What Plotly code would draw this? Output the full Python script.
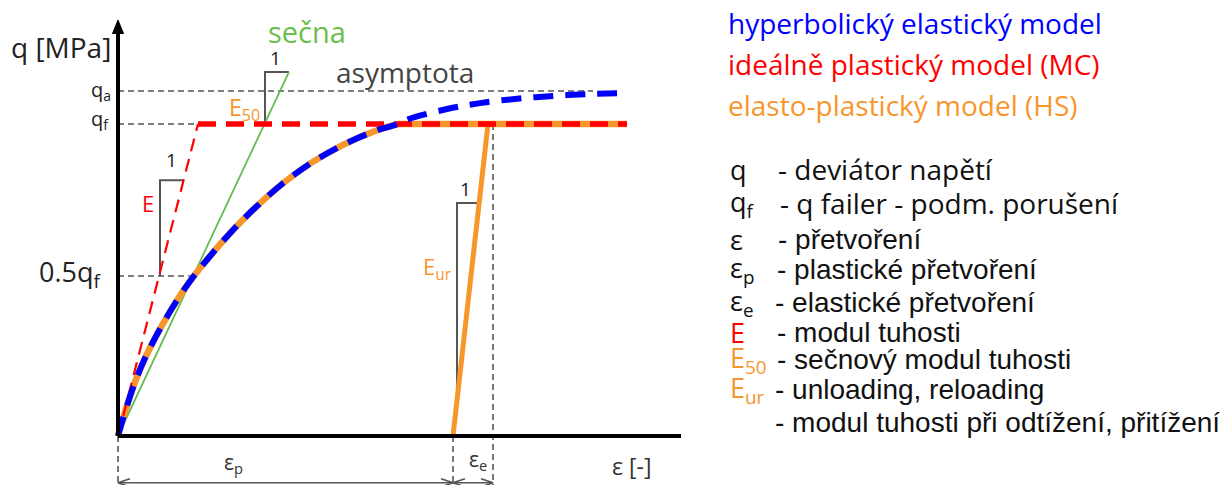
import plotly.graph_objects as go

# ---------------- data (strain units, q units with q_f = 100) ----------------
hyper_eps = [0, 0.5, 1.5, 2.4, 3.4, 4.5, 6.0, 7.4, 8.9, 11.2, 13.5, 16.5, 19.2, 22.5,
             25.9, 28.0, 28.9, 32.9, 36.2, 39.9, 43.5, 47.2, 50.5]
hyper_q = [0, 5.6, 15.5, 22.8, 29.5, 36.0, 44.0, 50.5, 56.5, 65.0, 72.5, 81.0, 87.3, 93.3,
           98.0, 100.0, 101.4, 104.8, 106.7, 108.1, 109.0, 109.6, 109.9]

q_f = 100.0
q_a = 110.6
q_half = 51.3
mc_corner_eps = 8.0
curve_end_eps = 50.9
eps_p = 33.5
eps_unload_top = 37.0
eps_e_end = 37.5
secant_eps = [0, 17.1]
secant_q = [0, 116.7]
x_axis_end = 56.3
y_axis_top = 133.3
dim_q = -15.0

# HS curve: hyperbola up to q_f, then plateau
hs_curve_eps = [e for e, q in zip(hyper_eps, hyper_q) if q <= q_f]
hs_curve_q = [q for q in hyper_q if q <= q_f]

# ---------------- figure ----------------
GREY = "#555555"
ORANGE = "#F7962B"
GREEN = "#66BB55"

fig = go.Figure()

def line(x, y, color, width, dash="solid", shape="linear"):
    fig.add_trace(go.Scatter(x=x, y=y, mode="lines",
                             line=dict(color=color, width=width, dash=dash, shape=shape),
                             hoverinfo="skip", showlegend=False))

# helper grey dashed lines
line([0, 47.5], [q_a, q_a], GREY, 1.6, "6px,4px")
line([0, mc_corner_eps], [q_f, q_f], GREY, 1.6, "6px,4px")
line([0, 7.4], [q_half, q_half], GREY, 1.6, "6px,4px")
line([0, 0], [0, dim_q - 2], GREY, 1.6, "6px,4px")
line([eps_p, eps_p], [0, dim_q - 2], GREY, 1.6, "6px,4px")
line([eps_e_end, eps_e_end], [q_f, dim_q - 2], GREY, 1.6, "6px,4px")

# slope triangles
line([4.2, 4.2, 6.6], [q_half, 82.0, 82.0], GREY, 2)
line([14.7, 14.7, 17.1], [q_f, 116.7, 116.7], GREY, 2)
line([33.9, 33.9, 36.1], [12.5, 74.7, 74.7], GREY, 2)

# secant
line(secant_eps, secant_q, GREEN, 1.8)

# HS elasto-plastic (orange)
line(hs_curve_eps, hs_curve_q, ORANGE, 6.5, shape="spline")
line([hs_curve_eps[-1], curve_end_eps], [q_f, q_f], ORANGE, 6.5)
line([eps_p, eps_unload_top], [0, q_f], ORANGE, 5)

# MC ideal plastic (red)
line([0, mc_corner_eps], [0, q_f], "#FF0000", 2.2, "13px,8px")
line([mc_corner_eps, curve_end_eps], [q_f, q_f], "#FF0000", 5.5, "18px,10px")

# hyperbolic (blue)
line(hyper_eps, hyper_q, "#0000FF", 6, "20px,12px", shape="spline")

# axes
line([0, x_axis_end], [0, 0], "black", 4)
line([0, 0], [0, y_axis_top - 3], "black", 4)
fig.add_trace(go.Scatter(x=[-0.55, 0.55, 0, -0.55], y=[129.0, 129.0, y_axis_top, 129.0],
                         mode="lines", fill="toself", fillcolor="black",
                         line=dict(color="black", width=1), hoverinfo="skip", showlegend=False))

# dimension arrows
line([0, eps_p], [dim_q, dim_q], GREY, 1.6)
line([eps_p, eps_e_end], [dim_q, dim_q], GREY, 1.6)
for tip, d in [(0, 1), (eps_p, -1), (eps_p, 1), (eps_e_end, -1)]:
    line([tip + d * 1.2, tip, tip + d * 1.2], [dim_q + 1.3, dim_q, dim_q - 1.3], GREY, 1.6)

# ---------------- texts in diagram ----------------
def txt(x, y, s, size, color, xanchor="center", family="Open Sans"):
    fig.add_annotation(x=x, y=y, text=s, showarrow=False, xanchor=xanchor, yanchor="middle",
                       font=dict(family=family, size=size, color=color))

txt(-5.7, 124.7, "q [MPa]", 28, "#222222")
txt(18.9, 129.6, "sečna", 29, "#6ABF4B")
txt(28.7, 116.6, "asymptota", 28, "#444444")
txt(15.7, 121.0, "1", 19, "#222222")
txt(12.6, 105.0, "E<sub>50</sub>", 23, ORANGE)
txt(5.3, 88.5, "1", 19, "#222222")
txt(3.0, 74.7, "E", 22, "#FF0000")
txt(34.7, 79.2, "1", 19, "#222222")
txt(31.9, 53.8, "E<sub>ur</sub>", 22, ORANGE)
txt(-0.5, 110.6, "q<sub>a</sub>", 20, "#222222", "right")
txt(-0.7, 101.5, "q<sub>f</sub>", 20, "#222222", "right")
txt(-1.4, 52.2, "0.5q<sub>f</sub>", 27, "#222222", "right")
txt(11.5, -8.8, "ε<sub>p</sub>", 21, "#333333")
txt(36.0, -7.8, "ε<sub>e</sub>", 21, "#333333")
txt(51.3, -9.6, "ε [-]", 23, "#333333")

# ---------------- legend text on right (paper coords from pixel layout) ----------------
W, H = 1227, 485

def ptxt(px, py, s, size, color, family="Open Sans"):
    fig.add_annotation(x=px / W, y=1 - py / H, xref="paper", yref="paper", text=s,
                       showarrow=False, xanchor="left", yanchor="middle",
                       font=dict(family=family, size=size, color=color))

ptxt(726, 23, "hyperbolický elastický model", 28, "#0000FF")
ptxt(726, 64, "ideálně plastický model (MC)", 28, "#FF0000")
ptxt(726, 105, "elasto-plastický model (HS)", 28, ORANGE)

sym_rows = [
    ("q", "#111111", 169, "- deviátor napětí", 776, "Open Sans"),
    ("q<sub>f</sub>", "#111111", 203, "- q failer - podm. porušení", 778, "Open Sans"),
    ("ε", "#111111", 239, "- přetvoření", 776, "Liberation Sans"),
    ("ε<sub>p</sub>", "#111111", 269, "- plastické přetvoření", 775, "Liberation Sans"),
    ("ε<sub>e</sub>", "#111111", 302, "- elastické přetvoření", 773, "Liberation Sans"),
    ("E", "#FF0000", 332, "- modul tuhosti", 775, "Liberation Sans"),
    ("E<sub>50</sub>", ORANGE, 359, "- sečnový modul tuhosti", 775, "Liberation Sans"),
    ("E<sub>ur</sub>", ORANGE, 389, "- unloading, reloading", 773, "Liberation Sans"),
    ("", "#111111", 422, "- modul tuhosti při odtížení, přitížení", 773, "Liberation Sans"),
]
for sym, col, py, desc, dx, fam in sym_rows:
    if sym:
        ptxt(728, py, sym, 27, col)
    ptxt(dx, py, desc, 28, "#111111", fam)

fig.update_layout(
    width=W, height=H,
    margin=dict(l=0, r=0, t=0, b=0),
    paper_bgcolor="white", plot_bgcolor="white",
    xaxis=dict(range=[-11.8, 110.9], visible=False, fixedrange=True),
    yaxis=dict(range=[(436 - 485) / 3.12, 436 / 3.12], visible=False, fixedrange=True),
    showlegend=False,
)

fig.write_html("out.html",
               config={"displayModeBar": False},
               post_script="document.body.style.margin='0px';document.body.style.padding='0px';")
